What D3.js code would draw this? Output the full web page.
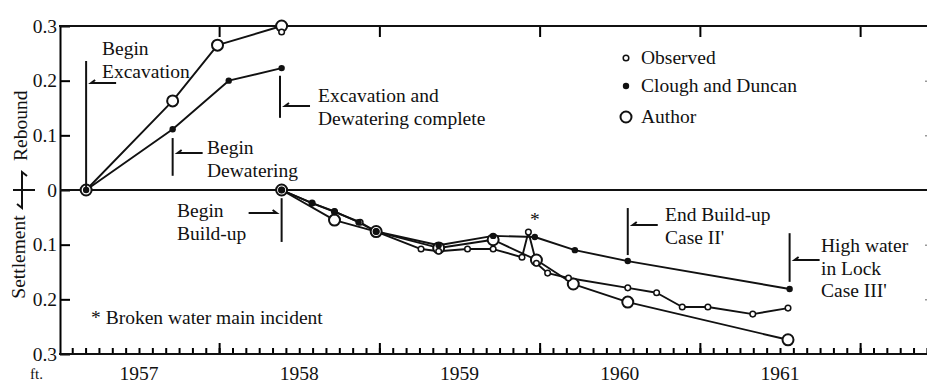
<!DOCTYPE html>
<html>
<head>
<meta charset="utf-8">
<script src="https://cdn.jsdelivr.net/npm/d3@7"></script>
<style>
  body { margin: 0; background: #fff; }
  svg text { font-family: "Liberation Serif", "Times New Roman", serif; fill: #111; }
</style>
</head>
<body>
<div id="chart"></div>
<script>
// time in decimal years, displacement in ft (+ rebound, - settlement)
var cloughRebT = [1956.67, 1957.21, 1957.56, 1957.89]
var cloughRebV = [0, 0.111, 0.200, 0.223]
var authorRebT = [1956.67, 1957.21, 1957.49, 1957.89]
var authorRebV = [0, 0.163, 0.265, 0.300]
var observedRebT = [1957.89]
var observedRebV = [0.289]

var cloughSetT = [1957.89, 1958.08, 1958.22, 1958.37, 1958.48, 1958.87, 1959.21, 1959.47, 1959.72, 1960.05, 1961.06]
var cloughSetV = [0, -0.024, -0.039, -0.059, -0.076, -0.101, -0.084, -0.086, -0.110, -0.130, -0.181]
var authorSetT = [1957.89, 1958.22, 1958.48, 1958.87, 1959.21, 1959.48, 1959.71, 1960.05, 1961.05]
var authorSetV = [0, -0.055, -0.076, -0.106, -0.091, -0.128, -0.172, -0.205, -0.274]
var observedSetT = [1957.89, 1958.08, 1958.22, 1958.38, 1958.48, 1958.76, 1958.87, 1959.05, 1959.21, 1959.39, 1959.43, 1959.48, 1959.55, 1959.68, 1960.05, 1960.23, 1960.39, 1960.55, 1960.83, 1961.05]
var observedSetV = [0, -0.024, -0.040, -0.059, -0.076, -0.108, -0.112, -0.108, -0.108, -0.123, -0.077, -0.134, -0.152, -0.161, -0.179, -0.188, -0.214, -0.214, -0.227, -0.216]

var yearLabels = [1957, 1958, 1959, 1960, 1961]
var yTickValues = [-0.3, -0.2, -0.1, 0, 0.1, 0.2, 0.3]

// event markers: time, vertical extent (ft), text lines
var events = [
    { t: 1956.67, v0: 0.236, v1: 0, arrowY: 83, side: "right", lines: ["Begin", "Excavation"], tx: 102, ty: 55 },
    { t: 1957.21, v0: 0.095, v1: 0.026, arrowY: 153, side: "right", lines: ["Begin", "Dewatering"], tx: 207, ty: 154 },
    { t: 1957.88, v0: 0.209, v1: 0.132, arrowY: 106, side: "right", lines: ["Excavation and", "Dewatering complete"], tx: 318, ty: 102 },
    { t: 1957.89, v0: -0.015, v1: -0.095, arrowY: 213, side: "left", lines: ["Begin", "Build-up"], tx: 177, ty: 217 },
    { t: 1960.05, v0: -0.033, v1: -0.119, arrowY: 225, side: "right", lines: ["End Build-up", "Case II'"], tx: 665, ty: 221 },
    { t: 1961.06, v0: -0.079, v1: -0.168, arrowY: 260, side: "right", lines: ["High water", "in Lock", "Case III'"], tx: 821, ty: 252 }
]

var width = 927, height = 383
var left = 60, rightAxis = 935

var svg = d3.select("#chart").append("svg")
    .attr("width", width)
    .attr("height", height)

var xScale = d3.scaleLinear().domain([1957, 1961]).range([139, 780])
var yScale = d3.scaleLinear().domain([-0.3, 0.3]).range([354, 26])

var fontSize = "19.5px"

// left axis
var leftAxis = svg.append("g")
    .attr("transform", "translate(" + left + ",0)")
    .call(d3.axisLeft(yScale).tickValues(yTickValues)
        .tickSizeInner(-10).tickSizeOuter(0).tickPadding(3)
        .tickFormat(function(d) { return d == 0 ? "0" : Math.abs(d).toFixed(1) }))
leftAxis.select(".domain").attr("stroke-width", 2)
leftAxis.selectAll(".tick line").attr("stroke-width", 2)
leftAxis.selectAll("text").attr("font-family", "Liberation Serif").attr("font-size", fontSize).attr("fill", "#111")

// right axis (mostly outside the picture)
var rAxis = svg.append("g")
    .attr("transform", "translate(" + rightAxis + ",0)")
    .call(d3.axisRight(yScale).tickValues([-0.2, -0.1, 0.1, 0.2]).tickSizeInner(-10).tickSizeOuter(0).tickFormat(""))
rAxis.select(".domain").remove()
rAxis.selectAll(".tick line").attr("stroke", "#999").attr("stroke-width", 1.5)

// bottom axis: monthly minor ticks, mid-year major ticks
var minorTicks = d3.range(-5, 60).map(function(k) { return 1957 + k / 12 })
    .filter(function(t) { return xScale(t) > left + 2 && xScale(t) < width })
var majorTicks = [1957.5, 1958.5, 1959.5, 1960.5, 1961.5]

var bottomAxis = svg.append("g").attr("transform", "translate(0," + yScale(-0.3) + ")")
bottomAxis.call(d3.axisBottom(xScale).tickValues(minorTicks).tickSizeInner(-6).tickSizeOuter(0).tickFormat(""))
bottomAxis.select(".domain").remove()
bottomAxis.selectAll(".tick line").attr("stroke-width", 2)
var bottomMajor = svg.append("g").attr("transform", "translate(0," + yScale(-0.3) + ")")
bottomMajor.call(d3.axisBottom(xScale).tickValues(majorTicks).tickSizeInner(-11).tickSizeOuter(0).tickFormat(""))
bottomMajor.select(".domain").remove()
bottomMajor.selectAll(".tick line").attr("stroke-width", 2)

svg.append("line")
    .attr("x1", left - 1).attr("x2", width)
    .attr("y1", yScale(-0.3)).attr("y2", yScale(-0.3))
    .attr("stroke", "#111").attr("stroke-width", 2)

svg.selectAll(".year")
    .data(yearLabels)
    .enter().append("text")
    .attr("class", "year")
    .attr("x", function(d) { return xScale(d) })
    .attr("y", 380)
    .attr("text-anchor", "middle")
    .attr("font-size", fontSize)
    .text(function(d) { return d })

// top border with mid-year ticks
var topAxis = svg.append("g").attr("transform", "translate(0," + yScale(0.3) + ")")
topAxis.call(d3.axisTop(xScale).tickValues(majorTicks).tickSizeInner(-11).tickSizeOuter(0).tickFormat(""))
topAxis.select(".domain").remove()
topAxis.selectAll(".tick line").attr("stroke-width", 2)
svg.append("line")
    .attr("x1", left - 1).attr("x2", width)
    .attr("y1", yScale(0.3)).attr("y2", yScale(0.3))
    .attr("stroke", "#111").attr("stroke-width", 2)

// zero line
svg.append("line")
    .attr("x1", left).attr("x2", width)
    .attr("y1", yScale(0)).attr("y2", yScale(0))
    .attr("stroke", "#111").attr("stroke-width", 2)

// rebound / settlement label with arrows
var y0 = yScale(0)
svg.append("line").attr("x1", 13).attr("x2", 35).attr("y1", y0).attr("y2", y0)
    .attr("stroke", "#111").attr("stroke-width", 2)
svg.append("path")
    .attr("d", "M22," + y0 + "V" + (y0 - 18) + "l5,4")
    .attr("fill", "none").attr("stroke", "#111").attr("stroke-width", 2)
svg.append("path")
    .attr("d", "M22," + y0 + "V" + (y0 + 18) + "l-5,-4")
    .attr("fill", "none").attr("stroke", "#111").attr("stroke-width", 2)
svg.append("text")
    .attr("transform", "translate(27,161) rotate(-90)")
    .attr("font-size", fontSize)
    .text("Rebound")
svg.append("text")
    .attr("transform", "translate(25,257) rotate(-90)")
    .attr("text-anchor", "middle")
    .attr("font-size", fontSize)
    .text("Settlement")
svg.append("text")
    .attr("x", 30).attr("y", 379)
    .attr("font-size", "15px")
    .text("ft.")

// series
function zip(ts, vs) { return ts.map(function(t, i) { return { t: t, v: vs[i] } }) }

var line = d3.line()
    .x(function(d) { return xScale(d.t) })
    .y(function(d) { return yScale(d.v) })
    .curve(d3.curveLinear)

var series = [
    { name: "Observed", pts: [zip(observedSetT, observedSetV)], dots: zip(observedSetT, observedSetV).concat(zip(observedRebT, observedRebV)), kind: "obs" },
    { name: "Clough and Duncan", pts: [zip(cloughRebT, cloughRebV), zip(cloughSetT, cloughSetV)], dots: zip(cloughRebT, cloughRebV).concat(zip(cloughSetT, cloughSetV)), kind: "cd" },
    { name: "Author", pts: [zip(authorRebT, authorRebV), zip(authorSetT, authorSetV)], dots: zip(authorRebT, authorRebV).concat(zip(authorSetT, authorSetV)), kind: "au" }
]

series.forEach(function(s) {
    s.pts.forEach(function(p) {
        svg.append("path")
            .datum(p)
            .attr("d", line)
            .attr("fill", "none")
            .attr("stroke", "#111")
            .attr("stroke-width", 1.9)
            .attr("stroke-linejoin", "round")
    })
})

function drawMarker(sel, kind) {
    if (kind == "obs") {
        sel.attr("r", 2.8).attr("fill", "#fff").attr("stroke", "#111").attr("stroke-width", 1.5)
    } else if (kind == "cd") {
        sel.attr("r", 3.2).attr("fill", "#111").attr("stroke", "none")
    } else {
        sel.attr("r", 5.5).attr("fill", "#fff").attr("stroke", "#111").attr("stroke-width", 2)
    }
}

// draw author first so small markers stay visible
;[series[2], series[0], series[1]].forEach(function(s) {
    var c = svg.selectAll(".m-" + s.kind)
        .data(s.dots)
        .enter().append("circle")
        .attr("class", "m-" + s.kind)
        .attr("cx", function(d) { return xScale(d.t) })
        .attr("cy", function(d) { return yScale(d.v) })
    drawMarker(c, s.kind)
})

// event annotations
events.forEach(function(e) {
    var x = xScale(e.t)
    svg.append("line")
        .attr("x1", x).attr("x2", x)
        .attr("y1", yScale(e.v0)).attr("y2", yScale(e.v1))
        .attr("stroke", "#111").attr("stroke-width", 2)
    var ax1, ax2
    if (e.side == "right") { ax1 = x + 5; ax2 = x + 30 } else { ax1 = x - 5; ax2 = x - 33 }
    var dir = e.side == "right" ? 1 : -1
    svg.append("path")
        .attr("d", "M" + ax2 + "," + e.arrowY + "H" + ax1 + "l" + (4 * dir) + ",-3")
        .attr("fill", "none").attr("stroke", "#111").attr("stroke-width", 2)
    e.lines.forEach(function(l, i) {
        svg.append("text")
            .attr("x", e.tx).attr("y", e.ty + i * 22.5)
            .attr("font-size", fontSize)
            .text(l)
    })
})

// broken water main note
svg.append("text")
    .attr("x", xScale(1959.47)).attr("y", 226)
    .attr("text-anchor", "middle")
    .attr("font-size", fontSize)
    .text("*")
svg.append("text")
    .attr("x", 91).attr("y", 324)
    .attr("font-size", fontSize)
    .text("* Broken water main incident")

// legend
var legend = svg.selectAll(".legend")
    .data(series)
    .enter().append("g")
    .attr("class", "legend")
    .attr("transform", function(d, i) { return "translate(626," + [58, 86, 117][i] + ")" })
legend.each(function(d) {
    var g = d3.select(this)
    drawMarker(g.append("circle").attr("cx", 0).attr("cy", 0), d.kind)
    g.append("text").attr("x", 15).attr("y", 6).attr("font-size", fontSize).text(d.name)
})
</script>
</body>
</html>
